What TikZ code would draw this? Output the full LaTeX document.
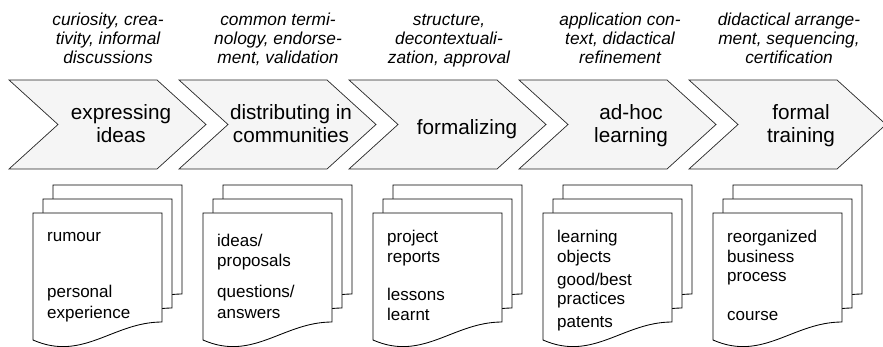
\documentclass[tikz,border=0pt]{standalone}
\usepackage{fontspec}
\setmainfont{Liberation Sans}
\newcommand\mydocpage[3]{%
  \draw[page] (#2,#3) -- ({#2+129},#3) -- ({#2+129},{#3+109})
    .. controls ({#2+80},{#3+109}) and ({#2+50},{#3+149}) .. (#2,{#3+127}) -- cycle;
  \path ({#2+64},{#3+60}) coordinate (#1);}
\begin{document}
\begin{tikzpicture}[x=1pt,y=-1pt,
  chev/.style={draw=black!85, line width=0.7pt, fill=black!4},
  page/.style={draw=black, line width=0.85pt, fill=white},
  chevtext/.style={font=\fontsize{20.7}{25}\selectfont, anchor=base, inner sep=0pt},
  headtext/.style={font=\fontsize{17.3}{20}\selectfont\itshape, anchor=base, inner sep=0pt},
  doctext/.style={font=\fontsize{17}{20}\selectfont, anchor=base west, inner sep=0pt}]
\useasboundingbox (0,0) rectangle (883,347);
\begin{scope}
\clip (0,0) rectangle (883,347);
% chevrons
\foreach \i in {0,...,4}{
  \pgfmathsetmacro\xo{9+170*\i}
  \draw[chev] (\xo,80) -- ++(148,0) -- ++(49,44.5) -- ++(-49,44.5) -- ++(-148,0) -- ++(49,-44.5) -- cycle;
}
% document stacks
\foreach \i in {0,...,4}{
  \pgfmathsetmacro\L{33+170*\i}
  \mydocpage{back\i}{\L+20}{185}
  \mydocpage{mid\i}{\L+10}{199}
  \mydocpage{front\i}{\L}{213}
}
\end{scope}
% headings
\node[headtext] (h1a) at (108,26) {curiosity, crea-};
\node[headtext] (h1b) at (108,45) {tivity, informal};
\node[headtext] (h1c) at (108,64) {discussions};
\node[headtext] (h2a) at (278,26) {common termi-};
\node[headtext] (h2b) at (278,45) {nology, endorse-};
\node[headtext] (h2c) at (278,64) {ment, validation};
\node[headtext] (h3a) at (449,26) {structure,};
\node[headtext] (h3b) at (449,45) {decontextuali-};
\node[headtext] (h3c) at (449,64) {zation, approval};
\node[headtext] (h4a) at (620,26) {application con-};
\node[headtext] (h4b) at (620,45) {text, didactical};
\node[headtext] (h4c) at (620,64) {refinement};
\node[headtext] (h5a) at (789,26) {didactical arrange-};
\node[headtext] (h5b) at (789,45) {ment, sequencing,};
\node[headtext] (h5c) at (789,64) {certification};
% chevron labels
\node[chevtext] (c1a) at (121,120) {expressing};
\node[chevtext] (c1b) at (121,143) {ideas};
\node[chevtext] (c2a) at (291,120) {distributing in};
\node[chevtext] (c2b) at (291,143) {communities};
\node[chevtext] (c3a) at (467,135) {formalizing};
\node[chevtext] (c4a) at (631,120) {ad-hoc};
\node[chevtext] (c4b) at (631,143) {learning};
\node[chevtext] (c5a) at (801,120) {formal};
\node[chevtext] (c5b) at (801,143) {training};
% document texts
\node[doctext] (d1a) at (47,242) {rumour};
\node[doctext] (d1b) at (47,298) {personal};
\node[doctext] (d1c) at (47,318) {experience};
\node[doctext] (d2a) at (217,247) {ideas/};
\node[doctext] (d2b) at (217,266) {proposals};
\node[doctext] (d2c) at (217,298) {questions/};
\node[doctext] (d2d) at (217,318) {answers};
\node[doctext] (d3a) at (387,243) {project};
\node[doctext] (d3b) at (387,263) {reports};
\node[doctext] (d3c) at (387,300) {lessons};
\node[doctext] (d3d) at (387,320) {learnt};
\node[doctext] (d4a) at (557,243) {learning};
\node[doctext] (d4b) at (557,263) {objects};
\node[doctext] (d4c) at (557,285) {good/best};
\node[doctext] (d4d) at (557,304) {practices};
\node[doctext] (d4e) at (557,327) {patents};
\node[doctext] (d5a) at (727,243) {reorganized};
\node[doctext] (d5b) at (727,263) {business};
\node[doctext] (d5c) at (727,282) {process};
\node[doctext] (d5d) at (727,320) {course};
\end{tikzpicture}
\end{document}
